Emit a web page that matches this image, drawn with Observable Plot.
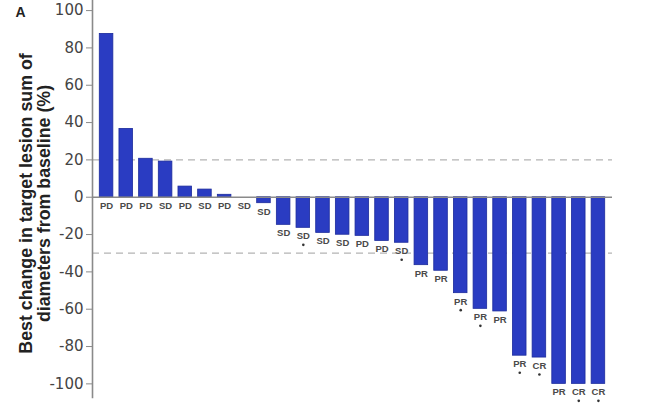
<!DOCTYPE html>
<html>
<head>
<meta charset="utf-8">
<script src="https://cdn.jsdelivr.net/npm/d3@7"></script>
<script src="https://cdn.jsdelivr.net/npm/@observablehq/plot@0.6"></script>
<style>
  html, body { margin: 0; padding: 0; background: #fff; }
  #chart { width: 646px; height: 408px; }
</style>
</head>
<body>
<div id="chart"></div>
<script>
const panelLabel = "A";
const yLabelLines = ["Best change in target lesion sum of", "diameters from baseline (%)"];
const yTicks = [-100, -80, -60, -40, -20, 0, 20, 40, 60, 80, 100];
const thresholds = [20, -30];
const responses = ["PD","PD","PD","SD","PD","SD","PD","SD","SD","SD","SD","SD","SD","PD","PD","SD","PR","PR","PR","PR","PR","PR","CR","PR","CR","CR"];
const values = [87.5, 36.6, 20.6, 19.1, 5.7, 4.1, 1.3, 0, -3.2, -14.8, -16.4, -19.1, -20.1, -20.7, -23.4, -24.4, -36.4, -39.4, -51.4, -59.8, -61.2, -84.9, -85.9, -100, -100, -100];
const confirmed = [false,false,false,false,false,false,false,false,false,false,true,false,false,false,false,true,false,false,true,true,false,true,true,false,true,true];

const data = values.map((v, i) => ({id: String(i), value: v, resp: responses[i], conf: confirmed[i], end: Math.min(v, 0)}));

const chart = Plot.plot({
  width: 646,
  height: 408,
  marginLeft: 92,
  marginRight: 34,
  marginTop: 0,
  marginBottom: 11,
  style: {fontFamily: "DejaVu Sans", background: "#fff"},
  x: {type: "band", domain: data.map(d => d.id), paddingInner: 0.31, paddingOuter: 0.37, round: false, axis: null},
  y: {domain: [-107.3, 105.4], axis: null},
  marks: [
    Plot.ruleY(thresholds, {stroke: "#b4b4b4", strokeWidth: 1.2, strokeDasharray: "7,5"}),
    Plot.barY(data, {x: "id", y: "value", fill: "#2a3cc2", stroke: "#1c2b9c", strokeWidth: 0.8}),
    Plot.ruleY([0], {stroke: "#8a8a8a", strokeWidth: 1.6}),
    Plot.frame({anchor: "left", stroke: "#8a8a8a", strokeWidth: 1.6}),
    Plot.axisY({ticks: yTicks, tickFormat: d => String(d), fontSize: 15, fill: "#444", stroke: "#8a8a8a", tickSize: 6, tickPadding: 3, label: null}),
    Plot.text(data, {x: "id", y: "end", text: "resp", dy: 8.5, fontSize: 9.5, fontWeight: "bold", fontFamily: "Liberation Sans", fill: "#4a4a4a"}),
    Plot.dot(data.filter(d => d.conf), {x: "id", y: "end", dy: 17, r: 1.3, fill: "#333", stroke: "none"}),
    Plot.text([yLabelLines.join("\n")], {frameAnchor: "left", text: d => d, rotate: -90, dx: -57, dy: 4.5, lineHeight: 1.0, fontSize: 17.8, fontWeight: "bold", fontFamily: "Liberation Sans", fill: "#222", textAnchor: "middle"}),
    Plot.text([panelLabel], {frameAnchor: "top-left", text: d => d, dx: -77, dy: 7, lineAnchor: "top", textAnchor: "start", fontSize: 14, fontWeight: "bold", fontFamily: "Liberation Sans", fill: "#222"})
  ]
});
document.getElementById("chart").appendChild(chart);
</script>
</body>
</html>
